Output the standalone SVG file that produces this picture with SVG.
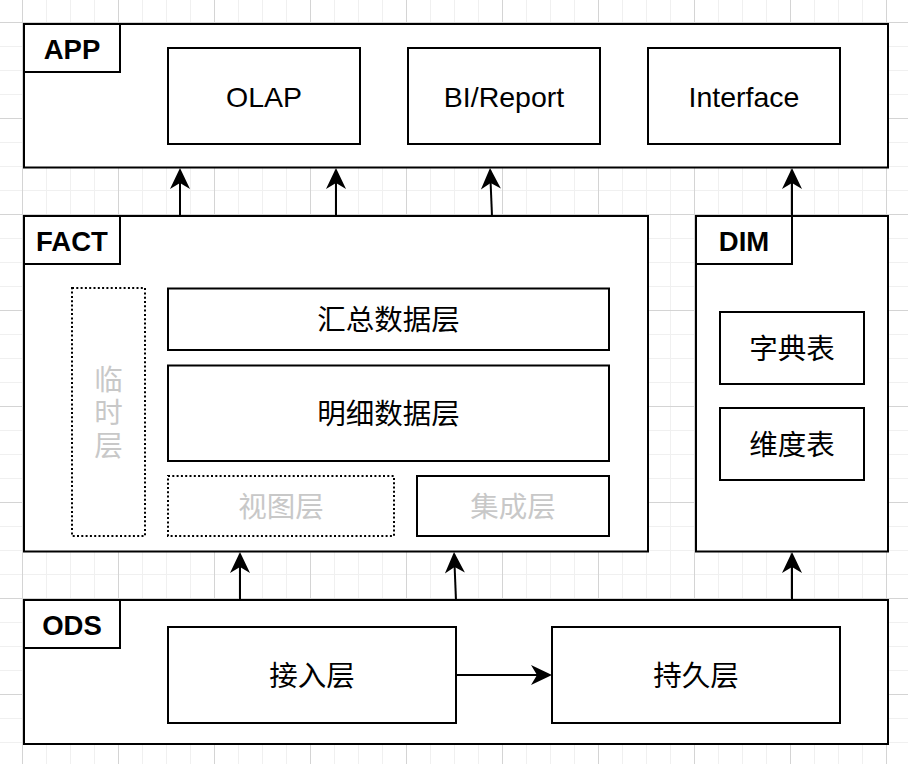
<svg xmlns="http://www.w3.org/2000/svg" width="908" height="764" viewBox="0 0 908 764">
<defs>
<pattern id="grid" patternUnits="userSpaceOnUse" x="22" y="22" width="96" height="96">
<rect x="0" y="0" width="96" height="96" fill="#ffffff"/>
<rect x="24" y="0" width="1" height="96" fill="#f0f0f0"/>
<rect x="48" y="0" width="1" height="96" fill="#f0f0f0"/>
<rect x="72" y="0" width="1" height="96" fill="#f0f0f0"/>
<rect x="0" y="24" width="96" height="1" fill="#f0f0f0"/>
<rect x="0" y="48" width="96" height="1" fill="#f0f0f0"/>
<rect x="0" y="72" width="96" height="1" fill="#f0f0f0"/>
<rect x="0" y="0" width="1" height="96" fill="#d4d4d4"/>
<rect x="0" y="0" width="96" height="1" fill="#d4d4d4"/>
</pattern>
<marker id="arr" markerUnits="userSpaceOnUse" markerWidth="26" markerHeight="26" viewBox="-24 -12 26 24" refX="-2" refY="0" orient="auto">
<path d="M0,0 L-21,-10 L-15,0 L-21,10 Z" fill="#000"/>
</marker>
<style>
.box{fill:#fff;stroke:#000;stroke-width:2}
.dot{fill:#fff;stroke:#000;stroke-width:2;stroke-dasharray:2 2.3}
.lbl{font-family:"Liberation Sans","Noto Sans CJK SC",sans-serif;font-size:27.5px;font-weight:bold;fill:#000;text-anchor:middle;dominant-baseline:central}
.t{font-family:"Liberation Sans","Noto Sans CJK SC",sans-serif;font-size:28.5px;fill:#000;text-anchor:middle;dominant-baseline:central}
.g{fill:#c8c8c8}
.edge{fill:none;stroke:#000;stroke-width:2;marker-end:url(#arr)}
</style>
</defs>
<rect x="0" y="0" width="908" height="764" fill="url(#grid)"/>

<g id="APP">
<rect class="box" x="24" y="24" width="864" height="143.5"/>
<rect class="box" x="24" y="24" width="96" height="48"/>
<text class="lbl" x="72" y="49">APP</text>
</g>
<g id="OLAP"><rect class="box" x="168" y="48" width="192" height="96"/><text class="t" x="264" y="97">OLAP</text></g>
<g id="BIReport"><rect class="box" x="408" y="48" width="192" height="96"/><text class="t" x="504" y="97">BI/Report</text></g>
<g id="Interface"><rect class="box" x="648" y="48" width="192" height="96"/><text class="t" x="744" y="97">Interface</text></g>

<g id="FACT">
<rect class="box" x="24" y="216" width="624" height="335.5"/>
<rect class="box" x="24" y="216" width="96" height="48"/>
<text class="lbl" x="72" y="241">FACT</text>
</g>
<g id="tmp">
<rect class="dot" x="72" y="288" width="73" height="248"/>
<text class="t g" x="108.5" y="380">临</text>
<text class="t g" x="108.5" y="413">时</text>
<text class="t g" x="108.5" y="446">层</text>
</g>
<g id="summary"><rect class="box" x="168" y="288.5" width="441" height="61.5"/><text class="t" x="388.5" y="320">汇总数据层</text></g>
<g id="detail"><rect class="box" x="168" y="365.5" width="441" height="95.5"/><text class="t" x="388.5" y="414">明细数据层</text></g>
<g id="view"><rect class="dot" x="168" y="476" width="226" height="60"/><text class="t g" x="281" y="507">视图层</text></g>
<g id="integ"><rect class="box" x="417" y="476" width="192" height="60"/><text class="t g" x="513" y="507">集成层</text></g>

<g id="DIM">
<rect class="box" x="696" y="216" width="192" height="335.5"/>
<rect class="box" x="696" y="216" width="96" height="48"/>
<text class="lbl" x="744" y="241">DIM</text>
</g>
<g id="dict"><rect class="box" x="720" y="312" width="144" height="72"/><text class="t" x="792" y="349">字典表</text></g>
<g id="dimtable"><rect class="box" x="720" y="408" width="144" height="72"/><text class="t" x="792" y="445">维度表</text></g>

<g id="ODS">
<rect class="box" x="24" y="600" width="864" height="144"/>
<rect class="box" x="24" y="600" width="96" height="48"/>
<text class="lbl" x="72" y="625">ODS</text>
</g>
<g id="access"><rect class="box" x="168" y="627" width="288" height="96"/><text class="t" x="312" y="676">接入层</text></g>
<g id="persist"><rect class="box" x="552" y="627" width="288" height="96"/><text class="t" x="696" y="676">持久层</text></g>

<g id="connectors">
<path class="edge" d="M180,216 L180,170"/>
<path class="edge" d="M336,216 L336,170"/>
<path class="edge" d="M492,216 L490.1,170"/>
<path class="edge" d="M792,216 L792,170"/>
<path class="edge" d="M240,600 L240,554"/>
<path class="edge" d="M456,600 L454.1,554"/>
<path class="edge" d="M792,600 L792,554"/>
<path class="edge" d="M456,675 L550,675"/>
</g>
</svg>
